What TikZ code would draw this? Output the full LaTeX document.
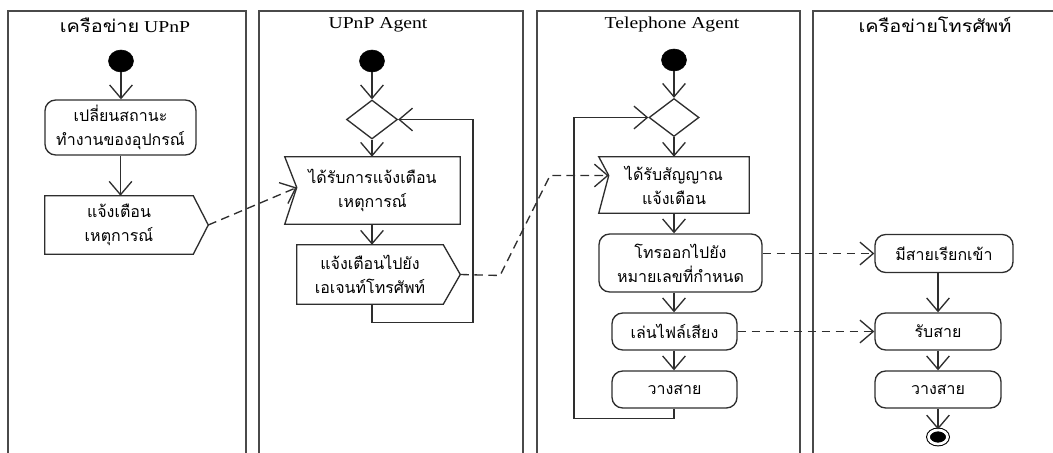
\documentclass[tikz,border=0pt]{standalone}
\usepackage{fontspec}
\setmainfont{Liberation Serif}[FakeStretch=1.18]
\newfontfamily\thai[Script=Thai]{Loma}
\newfontfamily\thaihead[Script=Thai,FakeStretch=1.15]{Loma}
\usetikzlibrary{arrows.meta,shapes.geometric,calc}
\definecolor{ink}{HTML}{2e2e2e}
\definecolor{lanec}{HTML}{4a4a4a}
\newcommand{\thaitext}{\thai\fontsize{12}{18}\selectfont}
\tikzset{
  sz/.style 2 args={minimum width=#1*0.75pt,minimum height=#2*0.75pt},
  lane/.style={draw=lanec,line width=1.05pt},
  hdr/.style={inner sep=0pt,font=\fontsize{12.5}{14}\selectfont},
  act/.style={draw=ink,line width=1pt,rounded corners=8pt,inner sep=0pt,
    align=center,font=\thaitext},
  sigbody/.style={inner sep=0pt,align=center,font=\thaitext},
  shp/.style={draw=ink,line width=1pt,line join=miter},
  initnode/.style={ellipse,fill=black,draw=black,inner sep=0pt,sz={25}{22}},
  finalnode/.style={ellipse,fill=black,draw=black,line width=0.8pt,
    double=white,double distance=2pt,inner sep=0pt,sz={19}{14}},
  choice/.style={diamond,draw=ink,line width=1pt,inner sep=0pt},
  flow/.style={draw=ink,line width=1pt,-{Straight Barb[length=10pt,width=17pt]}},
  msg/.style={draw=ink,line width=1pt,dash pattern=on 6.5pt off 4pt,
    -{Straight Barb[length=10pt,width=17pt]}}
}
\begin{document}
\begin{tikzpicture}[x=0.75pt,y=-0.75pt]
\useasboundingbox (0,0) rectangle (1053,453);

% swimlanes
\draw[lane] (8,453) -- (8,11) -- (246,11) -- (246,453);
\draw[lane] (259,453) -- (259,11) -- (523,11) -- (523,453);
\draw[lane] (537,453) -- (537,11) -- (800,11) -- (800,453);
\draw[lane] (813,453) -- (813,11) -- (1053,11);

\node[hdr] (h1) at (125,25) {{\thaihead\fontsize{13}{14}\selectfont เครือข่าย} UPnP};
\node[hdr] (h2) at (378,25) {UPnP Agent};
\node[hdr] (h3) at (672,25) {Telephone Agent};
\node[hdr,font=\thaihead\fontsize{13}{14}\selectfont] (h4) at (935,25) {เครือข่ายโทรศัพท์};

% lane 1: UPnP network
\node[initnode] (s1) at (121,61) {};
\node[act,sz={151}{55}] (a1) at (120.5,127.5) {เปลี่ยนสถานะ\\ทำงานของอุปกรณ์};
\node[sigbody,sz={148}{58}] (p1) at (119,225) {แจ้งเตือน\\เหตุการณ์};
\coordinate (p1tip) at ($(p1.east)+(15,0)$);
\draw[shp] (p1.north west) -- (p1.north east) -- (p1tip) -- (p1.south east)
  -- (p1.south west) -- cycle;
\draw[flow] (s1.south) -- (s1.south |- a1.north);
\draw[flow] (a1.south) -- (a1.south |- p1.north);

% lane 2: UPnP agent
\node[initnode] (s2) at (372,61) {};
\node[choice,sz={51}{39}] (d2) at (372,119.5) {};
\node[sigbody,sz={175}{67}] (r2) at (372.5,190.5) {ได้รับการแจ้งเตือน\\เหตุการณ์};
\coordinate (r2notch) at ($(r2.west)+(12,-3)$);
\draw[shp] (r2.north west) -- (r2.north east) -- (r2.south east)
  -- (r2.south west) -- (r2notch) -- cycle;
\node[sigbody,sz={146}{59}] (p2) at (370,274.5) {แจ้งเตือนไปยัง\\เอเจนท์โทรศัพท์};
\coordinate (p2tip) at ($(p2.east)+(17,0)$);
\draw[shp] (p2.north west) -- (p2.north east) -- (p2tip) -- (p2.south east)
  -- (p2.south west) -- cycle;
\coordinate (l2) at (473,322.5);
\draw[flow] (s2.south) -- (d2.north);
\draw[flow] (d2.south) -- (d2.south |- r2.north);
\draw[flow] (d2.south |- r2.south) -- (d2.south |- p2.north);
\draw[flow] (d2.south |- p2.south) -- (d2.south |- l2) -- (l2) |- (d2.east);

% lane 3: telephone agent
\node[initnode] (s3) at (674,60) {};
\node[choice,sz={50}{38}] (d3) at (674,117.5) {};
\node[sigbody,sz={150}{56}] (r3) at (674,185) {ได้รับสัญญาณ\\แจ้งเตือน};
\coordinate (r3notch) at ($(r3.west)+(10,-9.5)$);
\draw[shp] (r3.north west) -- (r3.north east) -- (r3.south east)
  -- (r3.south west) -- (r3notch) -- cycle;
\node[act,sz={163}{58}] (a3) at (680.5,263) {โทรออกไปยัง\\หมายเลขที่กำหนด};
\node[act,sz={125}{37}] (b3) at (674.5,331.5) {เล่นไฟล์เสียง};
\node[act,sz={125}{37}] (c3) at (674.5,389.5) {วางสาย};
\coordinate (l3) at (574,418.5);
\draw[flow] (s3.south) -- (d3.north);
\draw[flow] (d3.south) -- (d3.south |- r3.north);
\draw[flow] (d3.south |- r3.south) -- (d3.south |- a3.north);
\draw[flow] (d3.south |- a3.south) -- (d3.south |- b3.north);
\draw[flow] (d3.south |- b3.south) -- (d3.south |- c3.north);
\draw[flow] (d3.south |- c3.south) -- (d3.south |- l3) -- (l3) |- (d3.west);

% lane 4: telephone network
\node[act,sz={138}{38}] (a4) at (944,253.5) {มีสายเรียกเข้า};
\node[act,sz={126}{37}] (b4) at (938,331.5) {รับสาย};
\node[act,sz={126}{37}] (c4) at (938,389.5) {วางสาย};
\node[finalnode] (e4) at (938,437) {};
\draw[flow] (b4.north |- a4.south) -- (b4.north);
\draw[flow] (b4.south) -- (c4.north);
\draw[flow] (c4.south) -- (e4.north);

% signals between lanes
\coordinate (m1) at (500,275.5);
\coordinate (m2) at (550,175.5);
\draw[msg] (p1tip) -- (r2notch);
\draw[msg] (p2tip) -- (m1) -- (m2) -- (r3notch);
\draw[msg] (a3.east |- a4.west) -- (a4.west);
\draw[msg] (b3.east) -- (b4.west);
\end{tikzpicture}
\end{document}
